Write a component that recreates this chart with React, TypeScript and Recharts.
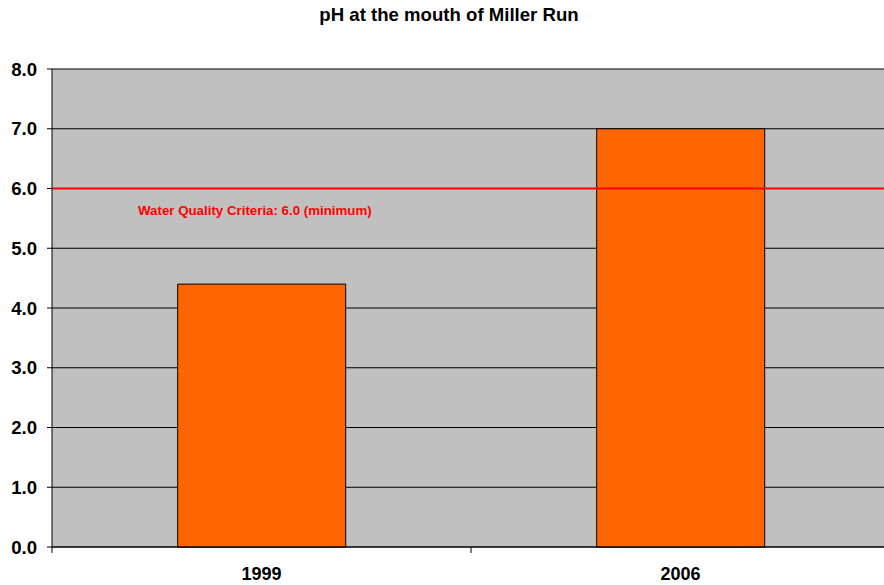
import { BarChart, Bar, XAxis, YAxis, CartesianGrid, ReferenceLine } from "recharts";

const years = ["1999", "2006"];
const phValues = [4.4, 7.0];
const yTicks = [0, 1, 2, 3, 4, 5, 6, 7, 8];
const criteria = 6.0;
const criteriaLabel = "Water Quality Criteria: 6.0 (minimum)";

const data = years.map((y, i) => ({ year: y, ph: phValues[i] }));

const W = 884;
const H = 585;
const LEFT = 52;
const OVERHANG = 6; // plot area runs a little past the right edge
const BAND = (W + OVERHANG - LEFT) / years.length;

const font = "'Liberation Sans', Arial, sans-serif";

const XTick = (props: any) => {
  const { x, y, payload } = props;
  return (
    <g>
      <line x1={x + BAND / 2} y1={y - 8} x2={x + BAND / 2} y2={y - 2} stroke="#000" />
      {payload.index === 0 && <line x1={x - BAND / 2} y1={y - 8} x2={x - BAND / 2} y2={y - 2} stroke="#000" />}
      <text x={x} y={y + 25} textAnchor="middle" fontFamily={font} fontWeight="bold" fontSize={18} fill="#000">
        {payload.value}
      </text>
    </g>
  );
};

const CriteriaLabel = (props: any) => {
  const vb = props.viewBox;
  return (
    <text x={vb.x + 86} y={vb.y + 26} fontFamily={font} fontWeight="bold" fontSize={13.3} fill="#FF0000">
      {criteriaLabel}
    </text>
  );
};

export default function App() {
  return (
    <div style={{ position: "absolute", left: 0, top: 0, width: W, height: H, background: "#fff", overflow: "hidden" }}>
      <div style={{ position: "absolute", left: 0, top: 3, width: 898, textAlign: "center", fontFamily: font, fontWeight: "bold", fontSize: 18.6, lineHeight: "24px" }}>
        pH at the mouth of Miller Run
      </div>
      <BarChart width={W} height={H} data={data} margin={{ top: 69, right: -OVERHANG, left: 0, bottom: 0 }} barCategoryGap="30%">
        <CartesianGrid vertical={false} stroke="#000" fill="#C0C0C0" fillOpacity={1} />
        <XAxis dataKey="year" height={38} stroke="#000" tickLine={false} tick={<XTick />} interval={0} />
        <YAxis
          width={LEFT}
          domain={[0, 8]}
          ticks={yTicks}
          interval={0}
          stroke="#000"
          tickSize={5}
          tickMargin={10}
          tickFormatter={(v: number) => v.toFixed(1)}
          tick={{ fill: "#000", fontFamily: font, fontWeight: "bold", fontSize: 18.6 }}
        />
        <Bar dataKey="ph" fill="#FF6600" stroke="#000" strokeWidth={1} isAnimationActive={false} />
        <ReferenceLine y={criteria} stroke="#FF0000" strokeWidth={2} label={<CriteriaLabel />} />
      </BarChart>
    </div>
  );
}
